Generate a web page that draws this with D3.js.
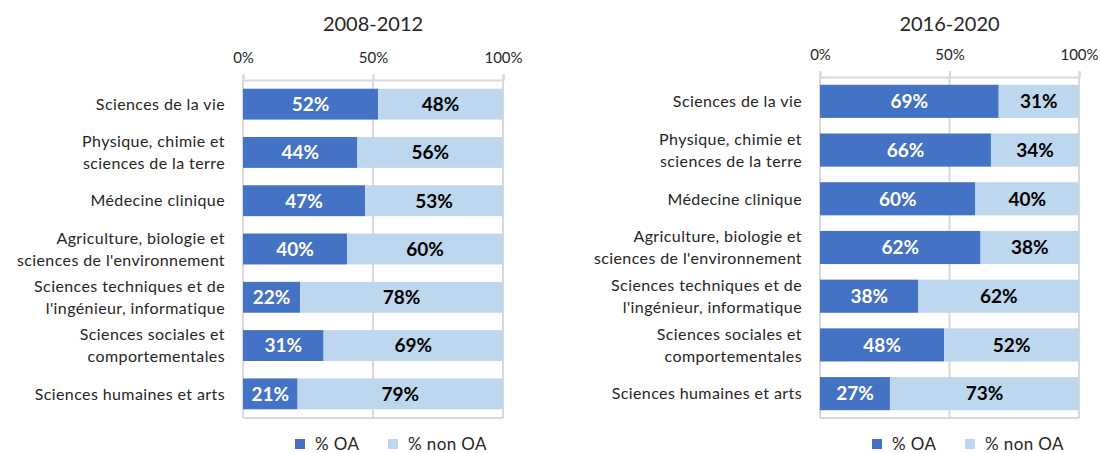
<!DOCTYPE html>
<html>
<head>
<meta charset="utf-8">
<script src="https://cdn.jsdelivr.net/npm/d3@7"></script>
<style>
  html, body { margin: 0; padding: 0; background: #ffffff; }
  svg { display: block; }
  text { font-family: Lato, "Open Sans", sans-serif; }
</style>
</head>
<body>
<div id="chart"></div>
<script>
// categories (each entry = label lines)
const categories = [
  ["Sciences de la vie"],
  ["Physique, chimie et", "sciences de la terre"],
  ["Médecine clinique"],
  ["Agriculture, biologie et", "sciences de l'environnement"],
  ["Sciences techniques et de", "l'ingénieur, informatique"],
  ["Sciences sociales et", "comportementales"],
  ["Sciences humaines et arts"]
];

const periods = ["2008-2012", "2016-2020"];
const seriesNames = ["% OA", "% non OA"];

const oa2008 = [52, 44, 47, 40, 22, 31, 21];
const nonOa2008 = [48, 56, 53, 60, 78, 69, 79];
const oa2016 = [69, 66, 60, 62, 38, 48, 27];
const nonOa2016 = [31, 34, 40, 38, 62, 52, 73];

const tickValues = [0, 50, 100];

const colors = { oa: '#4472C4', nonOa: '#BDD7EE', grid: '#D9D9D9', text: '#262626' };

const width = 1100, height = 453;

const svg = d3.select('#chart')
  .append('svg')
  .attr('width', width)
  .attr('height', height)
  .attr('viewBox', `0 0 ${width} ${height}`);

// one panel = title + top axis + stacked bars + legend
const drawPanel = (opts) => {
  const { title, oa, nonOa, x0, x1, y0, y1, padIn, padOut, legendX } = opts;

  const xScale = d3.scaleLinear().domain([0, 100]).range([x0, x1]);
  const yScale = d3.scaleBand()
    .domain(d3.range(categories.length))
    .range([y0, y1])
    .paddingInner(padIn)
    .paddingOuter(padOut);

  const g = svg.append('g');

  // title
  g.append('text')
    .attr('x', (x0 + x1) / 2)
    .attr('y', 31)
    .attr('text-anchor', 'middle')
    .style('font-size', '20px')
    .style('fill', colors.text)
    .text(title);

  // vertical grid lines
  g.selectAll('.vgrid')
    .data(tickValues)
    .enter()
    .append('line')
    .attr('class', 'vgrid')
    .attr('x1', d => xScale(d))
    .attr('x2', d => xScale(d))
    .attr('y1', y0)
    .attr('y2', y1)
    .style('stroke', colors.grid)
    .style('stroke-width', 2);

  // bottom line
  g.append('line')
    .attr('x1', x0).attr('x2', x1)
    .attr('y1', y1).attr('y2', y1)
    .style('stroke', colors.grid)
    .style('stroke-width', 2);

  // top axis
  const axis = g.append('g')
    .attr('transform', `translate(0, ${y0})`)
    .call(d3.axisTop(xScale)
      .tickValues(tickValues)
      .tickSize(6)
      .tickPadding(11)
      .tickFormat(d => d + '%'));

  axis.select('.domain').style('stroke', colors.grid).style('stroke-width', 2);
  axis.selectAll('.tick line').style('stroke', colors.grid).style('stroke-width', 2);
  axis.selectAll('text')
    .style('fill', colors.text)
    .style('font-family', 'Lato, "Open Sans", sans-serif')
    .style('font-size', '15px');

  const rows = categories.map((c, i) => ({ i, lines: c, oa: oa[i], nonOa: nonOa[i] }));

  // bars
  g.selectAll('.bar-oa')
    .data(rows)
    .enter()
    .append('rect')
    .attr('class', 'bar-oa')
    .attr('x', xScale(0))
    .attr('y', d => yScale(d.i))
    .attr('width', d => xScale(d.oa) - xScale(0))
    .attr('height', yScale.bandwidth())
    .style('fill', colors.oa);

  g.selectAll('.bar-non')
    .data(rows)
    .enter()
    .append('rect')
    .attr('class', 'bar-non')
    .attr('x', d => xScale(d.oa))
    .attr('y', d => yScale(d.i))
    .attr('width', d => xScale(d.oa + d.nonOa) - xScale(d.oa))
    .attr('height', yScale.bandwidth())
    .style('fill', colors.nonOa);

  // value labels
  const cy = d => yScale(d.i) + yScale.bandwidth() / 2;

  g.selectAll('.lab-oa')
    .data(rows)
    .enter()
    .append('text')
    .attr('x', d => xScale(d.oa / 2))
    .attr('y', cy)
    .attr('dy', '0.36em')
    .attr('text-anchor', 'middle')
    .style('font-size', '19px')
    .style('font-weight', 'bold')
    .style('fill', '#ffffff')
    .text(d => d.oa + '%');

  g.selectAll('.lab-non')
    .data(rows)
    .enter()
    .append('text')
    .attr('x', d => xScale(d.oa + d.nonOa / 2))
    .attr('y', cy)
    .attr('dy', '0.36em')
    .attr('text-anchor', 'middle')
    .style('font-size', '19px')
    .style('font-weight', 'bold')
    .style('fill', '#000000')
    .text(d => d.nonOa + '%');

  // category labels
  const cat = g.selectAll('.cat')
    .data(rows)
    .enter()
    .append('text')
    .attr('class', 'cat')
    .attr('text-anchor', 'end')
    .style('font-size', '16px')
    .style('letter-spacing', '0.4px')
    .style('fill', colors.text);

  cat.selectAll('tspan')
    .data(d => d.lines.map((l, k) => ({ l, k, n: d.lines.length, c: cy(d) })))
    .enter()
    .append('tspan')
    .attr('x', x0 - 18)
    .attr('y', d => d.c + (d.k - (d.n - 1) / 2) * 22)
    .attr('dy', '0.36em')
    .text(d => d.l);

  // legend
  const legend = g.append('g')
    .attr('transform', `translate(${legendX}, 439)`);

  const items = legend.selectAll('.legend-item')
    .data(seriesNames)
    .enter()
    .append('g')
    .attr('class', 'legend-item')
    .attr('transform', (d, i) => `translate(${i * 93}, 0)`);

  items.append('rect')
    .attr('width', 10)
    .attr('height', 10)
    .style('fill', (d, i) => i === 0 ? colors.oa : colors.nonOa);

  items.append('text')
    .attr('x', 20)
    .attr('y', 11)
    .style('font-size', '17px')
    .style('letter-spacing', '0.4px')
    .style('fill', colors.text)
    .text(d => d);
};

drawPanel({
  title: periods[0], oa: oa2008, nonOa: nonOa2008,
  x0: 243, x1: 503, y0: 80, y1: 418, padIn: 0.36, padOut: 0.18, legendX: 295
});

drawPanel({
  title: periods[1], oa: oa2016, nonOa: nonOa2016,
  x0: 820, x1: 1079, y0: 77, y1: 418, padIn: 0.32, padOut: 0.16, legendX: 872
});
</script>
</body>
</html>
